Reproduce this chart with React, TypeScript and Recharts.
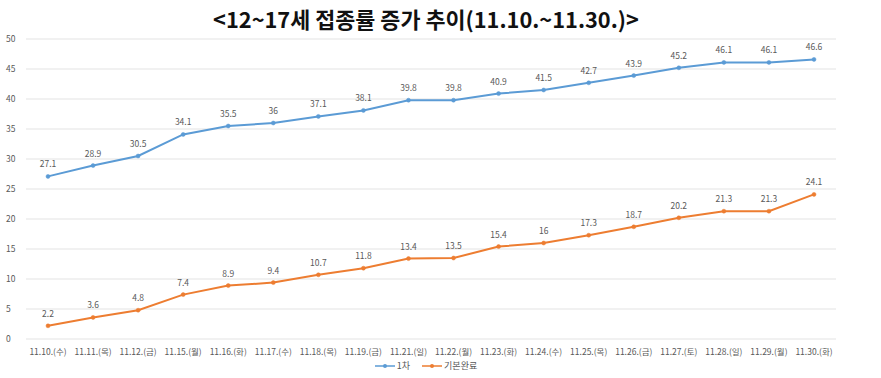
import { LineChart, Line, XAxis, YAxis, CartesianGrid, LabelList } from 'recharts';

const dates = [
  '11.10.(수)', '11.11.(목)', '11.12.(금)', '11.15.(월)', '11.16.(화)', '11.17.(수)',
  '11.18.(목)', '11.19.(금)', '11.21.(일)', '11.22.(월)', '11.23.(화)', '11.24.(수)',
  '11.25.(목)', '11.26.(금)', '11.27.(토)', '11.28.(일)', '11.29.(월)', '11.30.(화)',
];
const firstDose = [27.1, 28.9, 30.5, 34.1, 35.5, 36, 37.1, 38.1, 39.8, 39.8, 40.9, 41.5, 42.7, 43.9, 45.2, 46.1, 46.1, 46.6];
const fullDose = [2.2, 3.6, 4.8, 7.4, 8.9, 9.4, 10.7, 11.8, 13.4, 13.5, 15.4, 16, 17.3, 18.7, 20.2, 21.3, 21.3, 24.1];
const yTicks = [0, 5, 10, 15, 20, 25, 30, 35, 40, 45, 50];

const BLUE = '#5B9BD5';
const ORANGE = '#ED7D31';
const FONT = '"Noto Sans CJK KR", "Noto Sans", sans-serif';

const data = dates.map((d, i) => ({ date: d, first: firstDose[i], full: fullDose[i] }));

const seriesLegend = [
  { name: '1차', color: BLUE },
  { name: '기본완료', color: ORANGE },
];

function ChartLegend() {
  return (
    <div
      style={{
        position: 'absolute', left: 0, top: 359, width: 852, display: 'flex', justifyContent: 'center',
        gap: 12, fontFamily: FONT, fontSize: 9, color: '#595959', lineHeight: '14px',
      }}
    >
      {seriesLegend.map((it) => (
        <span key={it.name} style={{ display: 'flex', alignItems: 'center' }}>
          <svg width={20} height={8} style={{ marginRight: 2 }}>
            <line x1={0} y1={4} x2={20} y2={4} stroke={it.color} strokeWidth={1.5} />
            <circle cx={10} cy={4} r={2} fill={it.color} />
          </svg>
          {it.name}
        </span>
      ))}
    </div>
  );
}

export default function App() {
  return (
    <div style={{ position: 'absolute', left: 0, top: 0, width: 881, height: 378, background: '#fff' }}>
      <div
        style={{
          position: 'absolute', left: 0, top: 4, width: 852, textAlign: 'center',
          fontFamily: FONT, fontWeight: 700, fontSize: 21.8, color: '#111', lineHeight: '30px',
        }}
      >
        &lt;12~17세 접종률 증가 추이(11.10.~11.30.)&gt;
      </div>
      <div style={{ position: 'absolute', left: 0, top: 0 }}>
        <LineChart width={881} height={378} data={data} margin={{ top: 39, right: 45, left: 0, bottom: 19 }}>
          <CartesianGrid vertical={false} stroke="#E3E3E3" />
          <XAxis
            dataKey="date"
            axisLine={false}
            tickLine={false}
            interval={0}
            height={20}
            padding={{ left: 22, right: 22 }}
            tick={{ fontSize: 8.5, fill: '#595959', fontFamily: FONT }}
            tickMargin={4}
          />
          <YAxis
            domain={[0, 50]}
            ticks={yTicks}
            width={26}
            axisLine={false}
            tickLine={false}
            tick={{ fontSize: 8.5, fill: '#595959', fontFamily: FONT, textAnchor: 'start' }}
            tickMargin={0}
            dx={-14}
          />
          <Line
            dataKey="first"
            name="1차"
            stroke={BLUE}
            strokeWidth={2}
            dot={{ r: 2, fill: BLUE, stroke: BLUE, strokeWidth: 0.5 }}
            isAnimationActive={false}
          >
            <LabelList dataKey="first" position="top" offset={9} style={{ fontSize: 8.5, fill: '#595959', fontFamily: FONT }} />
          </Line>
          <Line
            dataKey="full"
            name="기본완료"
            stroke={ORANGE}
            strokeWidth={2}
            dot={{ r: 2, fill: ORANGE, stroke: ORANGE, strokeWidth: 0.5 }}
            isAnimationActive={false}
          >
            <LabelList dataKey="full" position="top" offset={9} style={{ fontSize: 8.5, fill: '#595959', fontFamily: FONT }} />
          </Line>
        </LineChart>
      </div>
      <ChartLegend />
    </div>
  );
}
